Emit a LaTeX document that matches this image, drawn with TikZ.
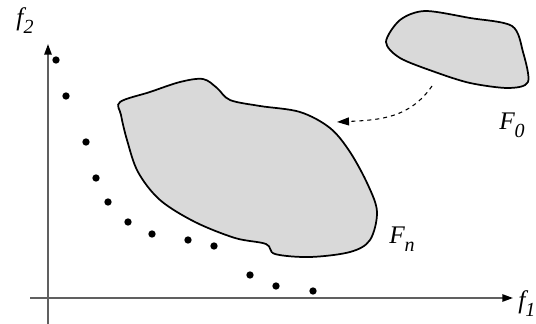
\documentclass[tikz,border=0pt]{standalone}
\usepackage{fontspec}
\setmainfont{Liberation Serif}
\usetikzlibrary{arrows.meta}
\newcommand{\lsub}[1]{\raisebox{-0.32em}{\fontsize{15}{15}\selectfont #1}}
\begin{document}
\begin{tikzpicture}[x=0.75pt,y=-0.75pt]
\tikzset{
  axis/.style={draw=gray!75!black, line width=1.2pt, -{Triangle[length=8pt,width=5.5pt,fill=black,color=black]}},
  blob/.style={draw=black, line width=1.3pt, fill=gray!30},
  pt/.style={circle, fill=black, inner sep=0pt, minimum size=5.5pt},
  lab/.style={font=\itshape\fontsize{19}{19}\selectfont, inner sep=0pt},
  flow/.style={dashed, line width=0.8pt, -{Triangle[length=9pt,width=6pt]}}
}
\useasboundingbox (0,0) rectangle (536,324);
\coordinate (ybot) at (48,326);
\coordinate (ytop) at (48,44);
\coordinate (xl) at (30,298);
\coordinate (xr) at (513,298);
\draw[axis] (ybot) -- (ytop);
\draw[axis] (xl) -- (xr);
\node[lab] (f2) at (25,21) {f\lsub{2}};
\node[lab, anchor=west] (f1) at (518,304) {f\lsub{1}};
% F_n
\draw[blob] plot[smooth cycle, tension=0.55] coordinates {
 (120,102) (150,92) (180,82) (203,79) (217,88) (230,100) (260,106) (300,112)
 (330,128) (350,152) (368,185) (377,212) (370,240) (350,252) (310,257) (275,254)
 (266,244) (235,238) (195,222) (160,200) (138,172) (127,140) (121,115)};
% F_0
\draw[blob] plot[smooth cycle, tension=0.5] coordinates {
 (386,42) (400,20) (425,11) (470,18) (512,26) (523,52) (528,82) (508,88)
 (470,83) (435,72) (400,58)};
\node[lab] (Fn) at (402,239) {F\lsub{n}};
\node[lab] (F0) at (512,125) {F\lsub{0}};
\coordinate (s) at (432,86);
\coordinate (t) at (337,122);
\draw[flow] (s) .. controls (410,118) and (380,120) .. (t);
\foreach \x/\y [count=\i] in {56/60,66/96,86/142,96/178,108/202,128/222,152/234,188/240,214/246,250/275,276/286,313/291}
  \node[pt] (d\i) at (\x,\y) {};
\end{tikzpicture}
\end{document}
